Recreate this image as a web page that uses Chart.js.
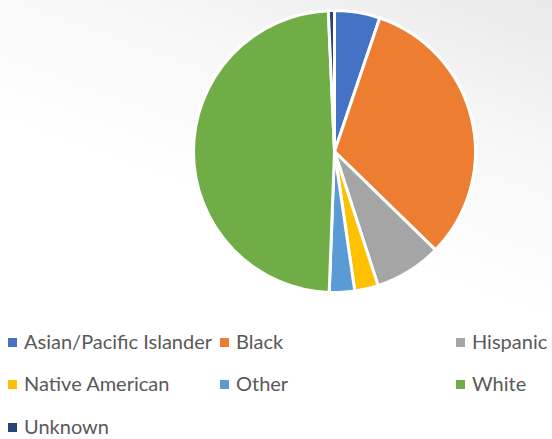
<!DOCTYPE html>
<html>
<head>
<meta charset="utf-8">
<script src="https://cdn.jsdelivr.net/npm/chart.js@4"></script>
<style>
html,body{margin:0;padding:0}
body{width:552px;height:439px;position:relative;overflow:hidden;
background:linear-gradient(200deg,#e9e9e9 0%,#f7f7f7 25%,#ffffff 50%);}
#pieBox{position:absolute;left:192px;top:9px;width:285px;height:285px}
.item{position:absolute;font-family:Lato,sans-serif;font-size:20px;color:#595959;white-space:nowrap;line-height:22px}
.item span{display:inline-block;width:9px;height:9px;margin-right:7px;vertical-align:2px}
</style>
</head>
<body>
<div id="pieBox"><canvas id="pieChart"></canvas></div>
<div id="legend"></div>
<script>
const labels=['Asian/Pacific Islander','Black','Hispanic','Native American','Other','White','Unknown'];
const shares=[5.2,32.1,7.7,2.7,2.9,48.7,0.7];
const colors=['#4472C4','#ED7D31','#A5A5A5','#FFC000','#5B9BD5','#70AD47','#264478'];

const pie=document.getElementById('pieChart');

new Chart(pie,{
type:'pie',
data:{
labels:labels,
datasets:[{
data:shares,
backgroundColor:colors,
borderColor:'#ffffff',
borderWidth:3,
hoverOffset:0
}]
},
options:{
responsive:true,
maintainAspectRatio:false,
animation:false,
layout:{padding:0},
plugins:{
legend:{display:false},
tooltip:{enabled:false}
}
}
});

// legend laid out in three columns like the original
const colX=[8,220,456];
const rowY=[330,372,415];
const legend=document.getElementById('legend');
labels.forEach((name,i)=>{
const d=document.createElement('div');
d.className='item';
d.style.left=colX[i%3]+'px';
d.style.top=rowY[Math.floor(i/3)]+'px';
d.innerHTML='<span style="background:'+colors[i]+'"></span>'+name;
legend.appendChild(d);
});
</script>
</body>
</html>
